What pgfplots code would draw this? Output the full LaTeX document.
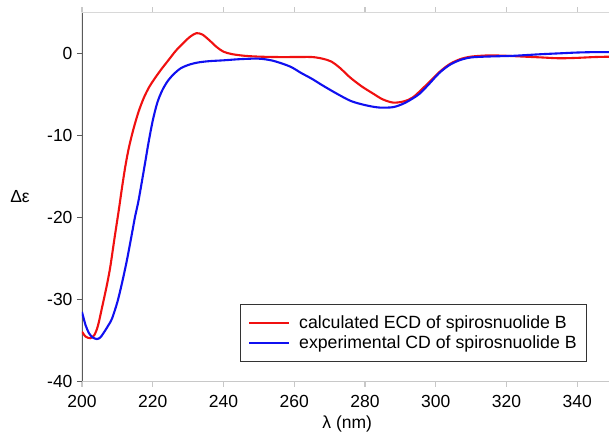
\documentclass[border=0pt]{standalone}
\usepackage{pgfplots}
\pgfplotsset{compat=1.18}
\usepackage{fontspec}
\setmainfont{Liberation Sans}
\usetikzlibrary{calc}
\definecolor{leftax}{HTML}{5A5A5A}
\definecolor{botax}{HTML}{C8C8C8}
\definecolor{topax}{HTML}{D8D8D8}
\definecolor{cred}{HTML}{F01010}
\definecolor{cblue}{HTML}{1010F0}
\begin{document}
\begin{tikzpicture}
\begin{axis}[
  scale only axis,
  width=530.5pt, height=369.4pt,
  xmin=200, xmax=350, ymin=-40, ymax=5,
  font=\fontsize{17.5}{20}\selectfont,
  /pgf/number format/assume math mode=true,
  axis line style={draw=none},
  tick align=outside,
  major tick length=5pt,
  xtick={200,220,...,340},
  xticklabels={200,220,240,260,280,300,320,340},
  ytick={-40,-30,-20,-10,0},
  yticklabels={-40,-30,-20,-10,0},
  xtick style={draw=botax, line width=1.2pt},
  ytick style={draw=leftax, line width=1.2pt},
  xticklabel style={yshift=-5pt},
  yticklabel style={xshift=-1pt},
  xlabel={λ (nm)},
  xlabel style={yshift=-1.5pt},
  ylabel={Δε},
  every axis y label/.style={at={(rel axis cs:0,0.5)}, anchor=center, xshift=-62pt},
  legend style={at={(rel axis cs:0.952,0.053)}, anchor=south east, draw=black!80, line width=0.8pt,
    inner xsep=8pt, inner ysep=10pt, row sep=1pt, font=\fontsize{17.7}{20}\selectfont},
  legend cell align=left,
  legend image code/.code={\draw[#1, line width=2pt] (0pt,0pt) -- (40pt,0pt);},
]
\coordinate (SW) at (rel axis cs:0,0);
\draw[leftax, line width=1.3pt] (rel axis cs:0,0) -- (rel axis cs:0,1);
\draw[botax, line width=1.3pt] (rel axis cs:0,0) -- (rel axis cs:1,0);
\draw[topax, line width=1.2pt] (rel axis cs:0,1) -- (rel axis cs:1,1);
\addplot[cred, line width=2.1pt, smooth] coordinates {
(200,-33.9) (201,-34.5) (202.4,-34.7) (203.5,-34.3) (204.5,-33.2) (205.7,-30.9) (207,-28.3)
(208,-26.0) (209.2,-22.5) (210.4,-19.1) (211.3,-16.4) (212.2,-13.9) (213.2,-11.6) (214.5,-9.3)
(216,-7.1) (217.5,-5.4) (219,-4.1) (220.5,-3.1) (222.5,-1.9) (224.5,-0.8) (226.5,0.3) (228.5,1.2) (230.5,2.0)
(232.3,2.45) (234,2.3) (236,1.6) (238,0.8) (240,0.2) (242.5,-0.1) (246,-0.3) (250,-0.4)
(255,-0.45) (260,-0.45) (265,-0.45) (268,-0.65) (270.5,-1.0) (273,-1.8) (275.7,-2.9)
(279,-4.0) (282.3,-4.9) (285,-5.6) (288,-6.0) (291,-5.85) (293.6,-5.35) (297,-4.0) (301,-2.3)
(304,-1.3) (307,-0.7) (310,-0.4) (315,-0.25) (320,-0.3) (325,-0.4) (330,-0.5) (335,-0.6)
(340,-0.55) (345,-0.45) (350,-0.4)
};
\addlegendentry{\hspace*{7pt}calculated ECD of spirosnuolide B}
\addplot[cblue, line width=2.1pt, smooth] coordinates {
(200,-31.5) (201,-33.1) (202,-34.1) (203,-34.6) (204.2,-34.8) (205.2,-34.6) (206.5,-33.8)
(207.5,-33.1) (208.5,-32.3) (210,-30.3) (211.3,-28.0) (212.7,-25.2) (214.1,-22.0) (215,-19.9)
(216,-17.9) (217.5,-14.2) (218.8,-10.9) (220,-8.2) (221.3,-6.0) (222.7,-4.5) (224.2,-3.4)
(226,-2.5) (228,-1.8) (230.5,-1.35) (233,-1.1) (236,-0.95) (240,-0.85) (245,-0.7) (250,-0.65)
(254,-0.9) (258.8,-1.6) (262,-2.4) (265,-3.1) (268,-3.9) (272,-4.9) (276,-5.8) (280,-6.3)
(284,-6.6) (288,-6.55) (291,-6.1) (293.5,-5.5) (295.5,-4.9) (298,-3.8) (301,-2.4) (304,-1.4)
(307,-0.8) (310,-0.5) (314,-0.4) (318,-0.35) (322,-0.3) (326,-0.2) (330,-0.1) (335,0.0)
(340,0.1) (345,0.15) (350,0.15)
};
\addlegendentry{\hspace*{7pt}experimental CD of spirosnuolide B}
\end{axis}
\pgfresetboundingbox
\path[use as bounding box] ($(SW)+(-82pt,-49.3pt)$) rectangle ($(SW)+(527pt,381.7pt)$);
\end{tikzpicture}
\end{document}
